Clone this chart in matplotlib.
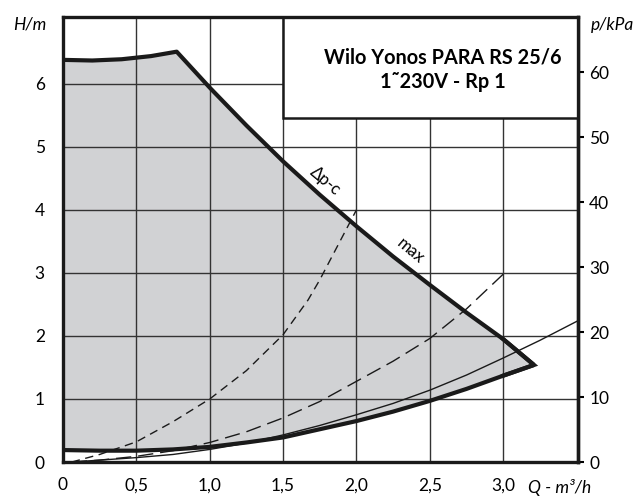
import numpy as np
import matplotlib
matplotlib.use('Agg')
import matplotlib.pyplot as plt
from matplotlib.patches import Rectangle

plt.rcParams['font.family'] = ['Lato', 'DejaVu Sans']

# --- data (Q in m3/h, H in m) ---
q_top = [0.0, 0.2, 0.4, 0.6, 0.775]
h_top = [6.38, 6.37, 6.39, 6.44, 6.51]

q_max = [0.775, 1.0, 1.25, 1.5, 1.75, 2.0, 2.25, 2.5, 2.75, 3.0, 3.21]
h_max = [6.51, 5.94, 5.34, 4.77, 4.24, 3.74, 3.26, 2.81, 2.37, 1.95, 1.54]

q_min = [0.0, 0.25, 0.5, 0.75, 1.0, 1.25, 1.5, 1.75, 2.0, 2.25, 2.5, 2.75, 3.0, 3.21]
h_min = [0.19, 0.18, 0.18, 0.20, 0.24, 0.31, 0.39, 0.52, 0.65, 0.80, 0.97, 1.16, 1.37, 1.54]

q_sys1 = [0.06, 0.25, 0.5, 0.75, 1.0, 1.25, 1.5, 1.75, 2.0, 2.25, 2.5, 2.75, 3.0, 3.25, 3.5]
h_sys1 = [0.0, 0.03, 0.07, 0.12, 0.20, 0.30, 0.43, 0.58, 0.75, 0.93, 1.14, 1.38, 1.65, 1.93, 2.23]

q_sys2 = [0.06, 0.25, 0.5, 0.75, 1.0, 1.25, 1.5, 1.75, 2.0, 2.25, 2.5, 2.75, 3.0]
h_sys2 = [0.0, 0.03, 0.09, 0.18, 0.31, 0.48, 0.70, 0.96, 1.28, 1.60, 1.96, 2.43, 2.98]

q_sys3 = [0.06, 0.25, 0.5, 0.75, 1.0, 1.25, 1.5, 1.67, 1.75, 2.0]
h_sys3 = [0.0, 0.12, 0.32, 0.64, 1.0, 1.45, 2.02, 2.57, 2.89, 4.0]

x_ticks = [0, 0.5, 1.0, 1.5, 2.0, 2.5, 3.0]
x_labels = ['0', '0,5', '1,0', '1,5', '2,0', '2,5', '3,0']
y_ticks = [0, 1, 2, 3, 4, 5, 6]
p_ticks = [0, 10, 20, 30, 40, 50, 60]
kpa_per_m = 9.7

fig = plt.figure(figsize=(6.38, 4.96), dpi=100)
ax = fig.add_axes([0.0987, 0.0685, 0.8073, 0.8972])
ax.set_xlim(0, 3.51)
ax.set_ylim(0, 7.06)

# gray operating area
poly_q = np.concatenate([q_top, q_max[1:], q_min[::-1]])
poly_h = np.concatenate([h_top, h_max[1:], h_min[::-1]])
ax.fill(poly_q, poly_h, color='#d1d2d4', lw=0, zorder=1)

ax.set_axisbelow(False)
ax.set_xticks(x_ticks)
ax.set_xticklabels(x_labels)
ax.set_yticks(y_ticks)
ax.grid(True, color='#333333', lw=1.0, zorder=2)
ax.tick_params(length=0, labelsize=12.5)
ax.tick_params(axis='y', pad=13)
ax.tick_params(axis='x', pad=11)

# system curves
ax.plot(q_sys1, h_sys1, color='#1a1a1a', lw=1.0, zorder=3)
ax.plot(q_sys2, h_sys2, color='#1a1a1a', lw=1.0, dashes=(11, 5), zorder=3)
ax.plot(q_sys3, h_sys3, color='#1a1a1a', lw=1.0, dashes=(6, 4), zorder=3)

# pump curves
ax.plot(q_top + q_max[1:], h_top + h_max[1:], color='#1a1a1a', lw=3.0,
        solid_joinstyle='round', solid_capstyle='butt', zorder=4)
ax.plot(q_min, h_min, color='#1a1a1a', lw=3.0,
        solid_joinstyle='round', solid_capstyle='butt', zorder=4)
ax.plot([q_max[-2], q_max[-1], q_min[-2]], [h_max[-2], h_max[-1], h_min[-2]],
        color='#1a1a1a', lw=3.0, solid_joinstyle='miter', zorder=4)

ax.text(1.79, 4.45, 'Δp-c', rotation=-40, fontsize=12, ha='center', va='center', zorder=5)
ax.text(2.37, 3.35, 'max', rotation=-40, fontsize=12, ha='center', va='center', zorder=5)

# title box
ax.add_patch(Rectangle((1.5, 5.45), 2.01, 1.61, facecolor='white', edgecolor='#1a1a1a',
                       lw=1.8, zorder=6))
ax.text(2.59, 6.41, 'Wilo Yonos PARA RS 25/6', fontsize=14.3, fontweight='bold',
        ha='center', va='center', zorder=7)
ax.text(2.59, 6.03, '1˜230V - Rp 1', fontsize=14.3, fontweight='bold',
        ha='center', va='center', zorder=7)

for s in ax.spines.values():
    s.set_linewidth(2.4)
    s.set_color('#1a1a1a')
    s.set_zorder(8)

sec = ax.secondary_yaxis('right', functions=(lambda h: h * kpa_per_m, lambda p: p / kpa_per_m))
sec.set_yticks(p_ticks)
sec.tick_params(length=4, width=1.5, pad=4, labelsize=12.5)
sec.spines['right'].set_linewidth(2.4)

fig.text(30 / 638, 1 - 25 / 496, 'H/m', style='italic', fontsize=12.5, ha='center', va='center')
fig.text(612 / 638, 1 - 25 / 496, 'p/kPa', style='italic', fontsize=12.5, ha='center', va='center')
fig.text(560 / 638, 1 - 487 / 496, 'Q - m³/h', style='italic', fontsize=12.5, ha='center', va='center')

fig.savefig('out.png', dpi=100)
